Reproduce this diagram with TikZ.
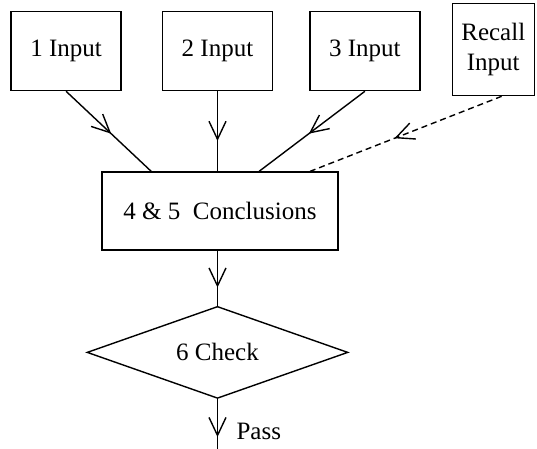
\documentclass[tikz,border=0pt]{standalone}
\usepackage{fontspec}
\setmainfont{Liberation Serif}
\usetikzlibrary{positioning,shapes.geometric,arrows.meta,decorations.markings,calc}

\tikzset{
  box/.style={draw, line width=0.7pt, minimum width=55pt, minimum height=39.5pt, inner sep=0pt},
  check/.style={draw, diamond, aspect=2.8, line width=0.7pt, minimum width=130.5pt, minimum height=46pt, inner sep=0pt},
  link/.style={line width=0.7pt},
  midarrow/.style={postaction={decorate, solid, decoration={markings,
      mark=at position #1 with {\arrow{Straight Barb[length=9pt,width=8.5pt]}}}}},
}

\begin{document}
\begin{tikzpicture}[font=\fontsize{12.5}{15}\selectfont]
  \useasboundingbox (-110pt,-119pt) rectangle (158.5pt,105.5pt);

  % Nodes
  \node[box, minimum width=118pt, minimum height=39pt] (concl) at (0,0) {4 \& 5~~Conclusions};
  \node[box, above=40pt of concl, xshift=-1.25pt] (in2) {2 Input};
  \node[box, left=20pt of in2] (in1) {1 Input};
  \node[box, right=18pt of in2] (in3) {3 Input};
  \node[box, right=15.5pt of in3, yshift=0.75pt, minimum width=41pt, minimum height=46pt, align=center] (recall) {Recall\\Input};

  \node[check, below=27.5pt of concl, xshift=-1.25pt] (chk) {6 Check};
  \coordinate[below=26pt of chk.south] (out);
  \node[right=6pt] (pass) at ($(chk.south)!0.62!(out)$) {Pass};

  % Edges
  \draw[link, midarrow=0.53] (in1.south) -- ($(concl.north west)!0.21!(concl.north east)$);
  \draw[link, midarrow=0.62] (in2.south) -- (in2.south |- concl.north);
  \draw[link, midarrow=0.53] (in3.south) -- ($(concl.north west)!0.665!(concl.north east)$);
  \draw[link, dash pattern=on 3pt off 2pt, midarrow=0.56] ($(recall.south west)!0.6!(recall.south east)$) -- ($(concl.north west)!0.88!(concl.north east)$);

  \draw[link, midarrow=0.67] (chk.north |- concl.south) -- (chk.north);
  \draw[link, midarrow=0.73] (chk.south) -- (out);

\end{tikzpicture}
\end{document}
